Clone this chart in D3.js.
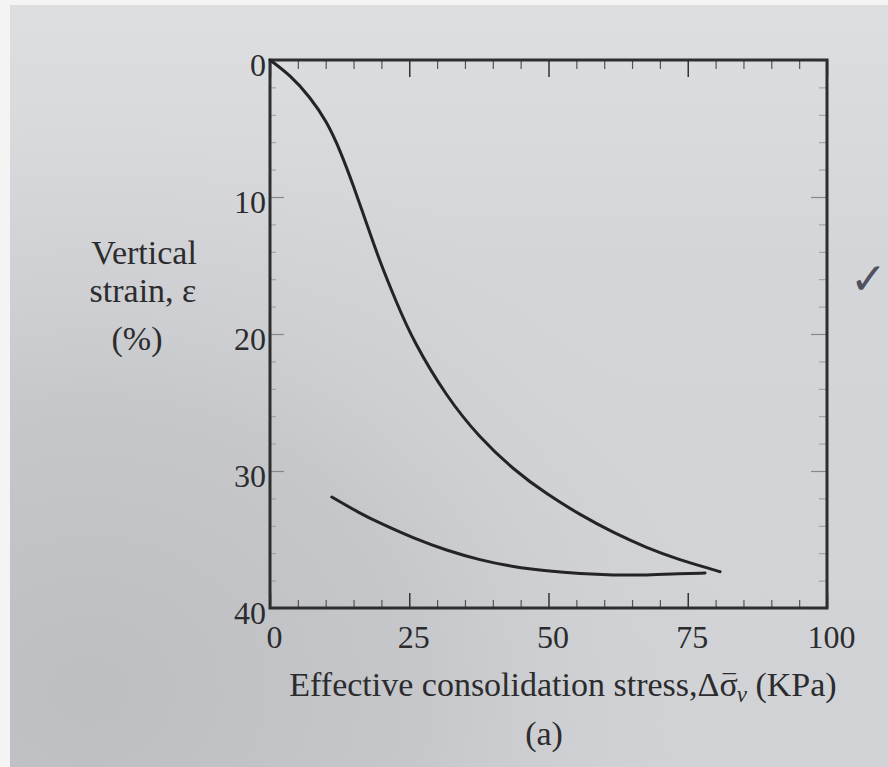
<!DOCTYPE html>
<html>
<head>
<meta charset="utf-8">
<script src="https://cdn.jsdelivr.net/npm/d3@7"></script>
<style>
  html, body { margin: 0; padding: 0; background: #d3d4d7; }
  svg { display: block; }
  text { font-family: "Liberation Serif", "DejaVu Serif", serif; fill: #2c2c2e; }
</style>
</head>
<body>
<svg id="chart" width="888" height="767"></svg>
<script>
// loading branch (stress in kPa, strain in %)
const loadStress = [0, 3.6, 7.2, 10.2, 12.6, 15.0, 17.4, 19.7, 22.7, 25.7, 31.7, 37.7, 43.7, 49.7, 55.7, 61.6, 67.6, 73.6, 79.6, 80.8];
const loadStrain = [0, 1.1, 2.7, 4.5, 6.6, 9.2, 12.0, 14.7, 17.7, 20.5, 24.6, 27.6, 29.9, 31.7, 33.2, 34.5, 35.6, 36.5, 37.2, 37.35];

// unloading branch
const unloadStress = [11.1, 16.2, 19.7, 25.7, 31.7, 37.7, 43.7, 49.7, 55.7, 61.6, 67.6, 73.6, 78.1];
const unloadStrain = [31.9, 33.1, 33.8, 34.9, 35.8, 36.5, 37.0, 37.3, 37.5, 37.6, 37.6, 37.5, 37.45];

const xTicks = [0, 25, 50, 75, 100];
const yTicks = [0, 10, 20, 30, 40];
const xMinorTicks = d3.range(0, 101, 5).filter(d => !xTicks.includes(d));
const yMinorTicks = d3.range(0, 41, 2).filter(d => !yTicks.includes(d));

const margin = {left: 270, top: 60, right: 61, bottom: 159};
const width = 888, height = 767;
const innerWidth = width - margin.left - margin.right;
const innerHeight = height - margin.top - margin.bottom;

const svg = d3.select("#chart");

// paper shading
const defs = svg.append("defs");
const shade = defs.append("radialGradient").attr("id", "shade")
                  .attr("cx", "0.1").attr("cy", "0.9").attr("r", "0.75");
shade.append("stop").attr("offset", "0").attr("stop-color", "#bdbec1");
shade.append("stop").attr("offset", "0.5").attr("stop-color", "#c6c7ca");
shade.append("stop").attr("offset", "1").attr("stop-color", "#d3d4d7").attr("stop-opacity", 0);
const light = defs.append("linearGradient").attr("id", "light")
                  .attr("x1", 0).attr("y1", 0).attr("x2", 0).attr("y2", 1);
light.append("stop").attr("offset", "0").attr("stop-color", "#dddee0");
light.append("stop").attr("offset", "0.35").attr("stop-color", "#d4d5d8");
light.append("stop").attr("offset", "1").attr("stop-color", "#d1d2d5");
svg.append("rect").attr("width", width).attr("height", height).attr("fill", "url(#light)");
svg.append("rect").attr("width", width).attr("height", height).attr("fill", "url(#shade)");
svg.append("rect").attr("width", 10).attr("height", height).attr("fill", "#f4f4f4");
svg.append("rect").attr("width", width).attr("height", 5).attr("fill", "#f4f4f4");

const g = svg.append("g").attr("transform", `translate(${margin.left}, ${margin.top})`);

const xScale = d3.scaleLinear().domain([0, 100]).range([0, innerWidth]);
const yScale = d3.scaleLinear().domain([0, 40]).range([0, innerHeight]);

const tidy = sel => {
    sel.select(".domain").remove();
    sel.selectAll(".tick line").attr("stroke", "#333");
};

// bottom axis with labels
g.append("g")
 .attr("transform", `translate(0, ${innerHeight})`)
 .call(d3.axisBottom(xScale).tickValues(xTicks).tickSize(-15).tickPadding(0))
 .call(tidy)
 .call(s => s.selectAll(".tick line").attr("stroke-width", 1.5))
 .call(s => s.selectAll(".tick text")
             .attr("font-size", 32).attr("dy", 0).attr("y", 40).attr("x", 4)
             .attr("font-family", "Liberation Serif").attr("fill", "#2c2c2e"));
g.append("g")
 .attr("transform", `translate(0, ${innerHeight})`)
 .call(d3.axisBottom(xScale).tickValues(xMinorTicks).tickSize(-8).tickFormat(""))
 .call(tidy)
 .call(s => s.selectAll(".tick line").attr("stroke-width", 1.2).attr("stroke", "#555"));

// top axis
g.append("g")
 .call(d3.axisTop(xScale).tickValues(xTicks).tickSize(-17).tickFormat(""))
 .call(tidy)
 .call(s => s.selectAll(".tick line").attr("stroke-width", 1.5));
g.append("g")
 .call(d3.axisTop(xScale).tickValues(xMinorTicks).tickSize(-9).tickFormat(""))
 .call(tidy)
 .call(s => s.selectAll(".tick line").attr("stroke-width", 1.2).attr("stroke", "#555"));

// left axis with labels
g.append("g")
 .call(d3.axisLeft(yScale).tickValues(yTicks).tickSize(-14).tickPadding(0))
 .call(tidy)
 .call(s => s.selectAll(".tick line").attr("stroke-width", 1.2).attr("stroke", "#888"))
 .call(s => s.selectAll(".tick text")
             .attr("font-size", 32).attr("dy", 0).attr("y", 15).attr("x", -4)
             .attr("font-family", "Liberation Serif").attr("fill", "#2c2c2e"));
g.append("g")
 .call(d3.axisLeft(yScale).tickValues(yMinorTicks).tickSize(-6).tickFormat(""))
 .call(tidy)
 .call(s => s.selectAll(".tick line").attr("stroke-width", 1).attr("stroke", "#9a9a9c"));

// right axis
g.append("g")
 .attr("transform", `translate(${innerWidth}, 0)`)
 .call(d3.axisRight(yScale).tickValues(yTicks).tickSize(-16).tickFormat(""))
 .call(tidy)
 .call(s => s.selectAll(".tick line").attr("stroke-width", 1.2).attr("stroke", "#888"));
g.append("g")
 .attr("transform", `translate(${innerWidth}, 0)`)
 .call(d3.axisRight(yScale).tickValues(yMinorTicks).tickSize(-8).tickFormat(""))
 .call(tidy)
 .call(s => s.selectAll(".tick line").attr("stroke-width", 1).attr("stroke", "#9a9a9c"));

// frame
g.append("rect")
 .attr("width", innerWidth).attr("height", innerHeight)
 .attr("fill", "none").attr("stroke", "#2e2e30").attr("stroke-width", 3);

// curves
const line = d3.line()
               .x(d => xScale(d[0]))
               .y(d => yScale(d[1]))
               .curve(d3.curveBasis);

const loading = d3.zip(loadStress, loadStrain);
const unloading = d3.zip(unloadStress, unloadStrain);

g.append("path").datum(loading)
 .attr("d", line).attr("fill", "none")
 .attr("stroke", "#242426").attr("stroke-width", 3).attr("stroke-linecap", "round");
g.append("path").datum(unloading)
 .attr("d", line).attr("fill", "none")
 .attr("stroke", "#242426").attr("stroke-width", 3).attr("stroke-linecap", "round");

// y label
const yLab = svg.append("text").attr("font-size", 34).attr("text-anchor", "middle");
yLab.append("tspan").attr("x", 144).attr("y", 264).text("Vertical");
yLab.append("tspan").attr("x", 143).attr("y", 302).text("strain, ε");
yLab.append("tspan").attr("x", 137).attr("y", 350).text("(%)");

// x label
const xLab = svg.append("text").attr("font-size", 34).attr("text-anchor", "middle")
                .attr("x", 563).attr("y", 696);
xLab.append("tspan").text("Effective consolidation stress,Δσ");
xLab.append("tspan").attr("dx", -15).attr("dy", -4).attr("font-size", 26).text("¯");
xLab.append("tspan").attr("dx", 1).attr("dy", 10).attr("font-style", "italic")
    .attr("font-size", 23).text("v");
xLab.append("tspan").attr("dy", -6).text(" (KPa)");

svg.append("text").attr("font-size", 34).attr("text-anchor", "middle")
   .attr("x", 544).attr("y", 745).text("(a)");

// hand-drawn tick mark on the page
svg.append("text").attr("font-family", "DejaVu Sans").attr("font-size", 44)
   .attr("x", 850).attr("y", 294).style("fill", "#50505e").text("✓");
</script>
</body>
</html>
